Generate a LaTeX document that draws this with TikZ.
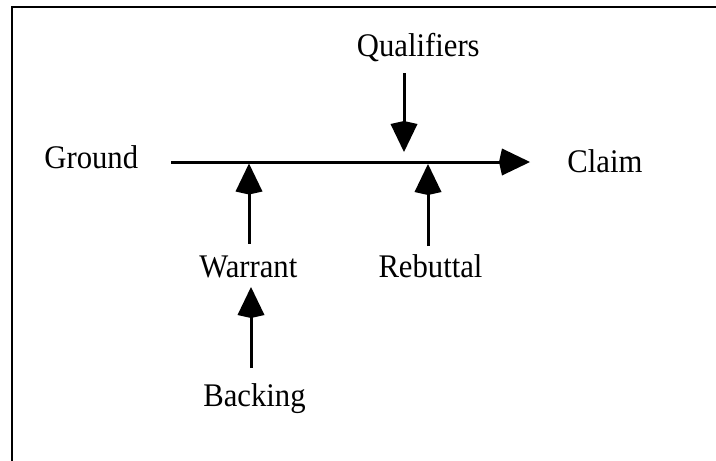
\documentclass[tikz,border=0pt]{standalone}
\usepackage{fontspec}
\setmainfont{Liberation Serif}[FakeStretch=0.93]
\usetikzlibrary{arrows.meta}

\begin{document}
\begin{tikzpicture}[x=1pt,y=-1pt,
  label/.style={inner sep=0pt,anchor=base,font=\fontsize{33}{40}\selectfont},
  link/.style={line width=3pt,-{Kite[length=31pt,width=27pt,inset=3pt]}},
  frame/.style={line width=2pt}]
  \useasboundingbox (0,0) rectangle (716,461);
  \clip (0,0) rectangle (716,461);
  % outer frame, only its top and left edges fall inside the page
  \draw[frame] (12,7) rectangle (760,520);

  % labels
  \node[label] (ground)     at (91.3,168.3) {Ground};
  \node[label] (claim)      at (605,172.5)  {Claim};
  \node[label] (qualifiers) at (418.3,56.7) {Qualifiers};
  \node[label] (warrant)    at (248.3,277.3) {Warrant};
  \node[label] (rebuttal)   at (430.5,277.3) {Rebuttal};
  \node[label] (backing)    at (254.5,406)  {Backing};

  % end points of the connectors
  \coordinate (mainS) at (171,162);
  \coordinate (mainE) at (530,162);
  \coordinate (qS) at (404,73);
  \coordinate (qE) at (404,152);
  \coordinate (wS) at (249,243.5);
  \coordinate (wE) at (249,163.5);
  \coordinate (rS) at (428,246);
  \coordinate (rE) at (428,164);
  \coordinate (bS) at (251,368);
  \coordinate (bE) at (251,287);

  % connectors
  \draw[link] (mainS) -- (mainE);
  \draw[link] (qS) -- (qE);
  \draw[link] (wS) -- (wE);
  \draw[link] (rS) -- (rE);
  \draw[link] (bS) -- (bE);
\end{tikzpicture}
\end{document}
